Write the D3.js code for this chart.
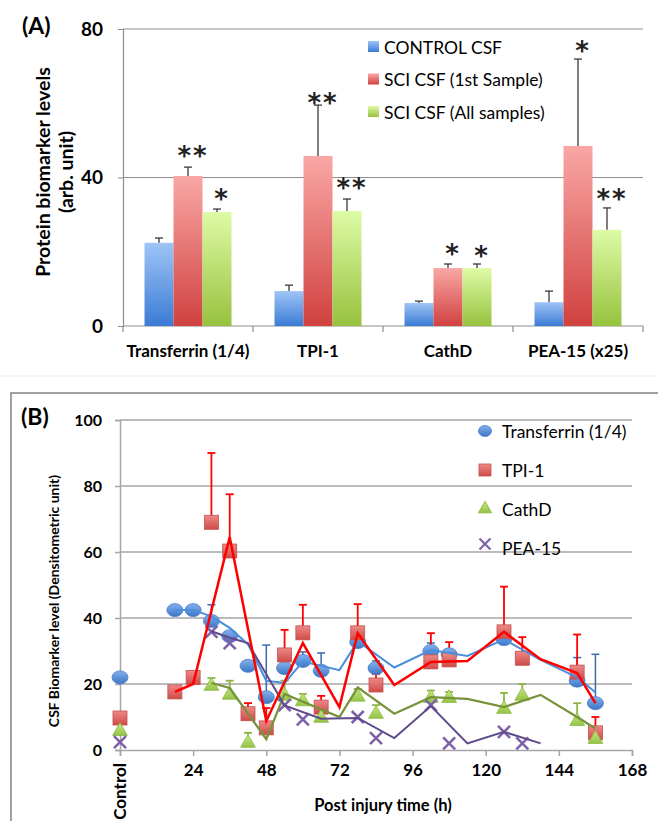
<!DOCTYPE html>
<html><head><meta charset="utf-8">
<script src="https://cdn.jsdelivr.net/npm/d3@7"></script>
<style>body{margin:0;background:#fff}svg{display:block}</style>
</head><body>
<script>
// ---------- Panel A data ----------
const catsA = ["Transferrin (1/4)", "TPI-1", "CathD", "PEA-15 (x25)"];
const seriesA = ["CONTROL CSF", "SCI CSF (1st Sample)", "SCI CSF (All samples)"];
const controlVals = [22.4, 9.4, 6.2, 6.4];
const controlErr  = [1.3, 1.6, 0.5, 3.0];
const firstVals   = [40.4, 45.8, 15.6, 48.5];
const firstErr    = [2.4, 13.7, 1.1, 23.4];
const allVals     = [30.7, 31.0, 15.6, 25.9];
const allErr      = [0.8, 3.2, 1.1, 5.9];
const controlStars = ["", "", "", ""];
const firstStars   = ["**", "**", "*", "*"];
const allStars     = ["*", "**", "*", "**"];
const firstStarLevel = [47.4, 61.7, 21.0, 75.7];
const allStarLevel   = [35.8, 38.8, 20.5, 35.8];
const ticksA = [0, 40, 80];

// ---------- Panel B data ----------
const ticksBy = [0, 20, 40, 60, 80, 100];
const ticksBx = [0, 24, 48, 72, 96, 120, 144, 168];
const tickLabelsBx = ["Control", "24", "48", "72", "96", "120", "144", "168"];
const seriesB = ["Transferrin (1/4)", "TPI-1", "CathD", "PEA-15"];

const trfHours = [0, 18, 24, 30, 36, 42, 48, 54, 60, 66, 78, 84, 102, 108, 126, 150, 156];
const trfVals  = [22, 42.4, 42.4, 39.1, 34.5, 25.5, 16, 24.8, 27, 24, 32.7, 24.8, 30, 29, 33.6, 21, 14.2];
const trfErrTop = [null, null, null, 44, null, null, 31.8, null, 29.7, 29.4, null, 27, 32.4, 30, null, 28, 29];
const trfLineH = [18, 24, 30, 36, 42, 48, 54, 60, 72, 78, 90, 102, 114, 126, 138, 150, 156];
const trfLineV = [42.4, 42.4, 40.5, 37, 32, 21, 20.3, 26.8, 24.2, 33, 25, 30.3, 28.5, 33.5, 27.3, 22, 17.5];

const tpiHours = [0, 18, 24, 30, 36, 42, 48, 54, 60, 66, 78, 84, 102, 108, 126, 132, 150, 156];
const tpiVals  = [9.7, 17.6, 22, 69, 60.3, 11, 6.7, 28.8, 35.5, 13, 35.5, 19.7, 26.7, 27.3, 35.8, 27.8, 23.6, 5.2];
const tpiErrTop = [null, null, null, 90, 77.5, 14.2, 12.7, 36.4, 44, 16.4, 44.2, 23, 35.4, 32.7, 49.5, 34.2, 35, 10];
const tpiLineH = [18, 24, 36, 48, 60, 72, 78, 90, 102, 114, 126, 138, 150, 156];
const tpiLineV = [17.6, 20, 64.5, 8.8, 32.4, 13, 35.4, 19.7, 26.7, 27, 35.8, 27.5, 23.3, 14.2];

const cathHours = [0, 30, 36, 42, 54, 60, 66, 78, 84, 102, 108, 126, 132, 150, 156];
const cathVals  = [6, 19.7, 17, 2.4, 16.7, 15, 10, 16.4, 11.2, 16, 16, 12.7, 16.7, 9, 3.6];
const cathErrTop = [null, 21.8, 21, 5.2, 21, 17, 12.5, 18.5, 13.6, 18, 17.6, 17.3, 20, 14.2, null];
const cathLineH = [30, 36, 48, 54, 72, 78, 90, 102, 114, 126, 138, 150, 156];
const cathLineV = [20.3, 18.8, 3.3, 17, 10, 19, 11, 16, 15.5, 13, 16.7, 10, 6.5];

const peaHours = [0, 30, 36, 54, 60, 78, 84, 102, 108, 126, 132];
const peaVals  = [2.4, 35.8, 32.4, 13.6, 9.3, 10, 3.6, 13.6, 2, 5.5, 2];
const peaLineH = [30, 36, 42, 54, 66, 78, 90, 102, 114, 126, 138];
const peaLineV = [36, 34, 32.4, 13.5, 9.5, 9.7, 3.6, 13.3, 2, 5.5, 2];

// ---------- drawing ----------
const FONT = "Lato, 'Open Sans', sans-serif";
const svg = d3.select("body").append("svg").attr("width", 658).attr("height", 821)
  .style("font-family", FONT);
const defs = svg.append("defs");
function vgrad(id, top, bottom) {
  const g = defs.append("linearGradient").attr("id", id)
    .attr("x1", 0).attr("y1", 0).attr("x2", 0).attr("y2", 1);
  g.append("stop").attr("offset", "0%").attr("stop-color", top);
  g.append("stop").attr("offset", "100%").attr("stop-color", bottom);
}
vgrad("gBlue", "#9fc4f6", "#3b7bd5");
vgrad("gRed", "#f9a7a5", "#d0413f");
vgrad("gGreen", "#defba6", "#97c23e");
vgrad("gCirc", "#84b1ee", "#3d77c6");
vgrad("gSq", "#ee8a88", "#cf4a48");
vgrad("gTri", "#c4e880", "#95c447");

// ===== Panel A =====
const yA = d3.scaleLinear().domain([0, 80]).range([326, 29]);
const x0 = d3.scaleBand().domain(catsA).range([123, 643]);
const x1 = d3.scaleBand().domain(seriesA).range([21.5, 108.5]);
const A = svg.append("g");

A.selectAll("line.grid").data(ticksA.filter(d => d > 0)).join("line")
  .attr("class", "grid")
  .attr("x1", 123).attr("x2", 643)
  .attr("y1", d => yA(d)).attr("y2", d => yA(d))
  .attr("stroke", "#8e8e8e").attr("stroke-width", 1.2);

const axA = A.append("g").attr("transform", "translate(123,0)")
  .call(d3.axisLeft(yA).tickValues(ticksA).tickSize(5).tickPadding(15).tickFormat(d3.format("d")));
axA.select(".domain").attr("stroke", "#8e8e8e").attr("stroke-width", 1.2);
axA.selectAll(".tick line").attr("stroke", "#8e8e8e");
axA.selectAll(".tick text").attr("font-family", FONT).attr("font-size", 19)
  .attr("font-weight", "bold").attr("fill", "#000");

// bottom axis with ticks at category boundaries
A.append("line").attr("x1", 123).attr("x2", 643).attr("y1", yA(0)).attr("y2", yA(0))
  .attr("stroke", "#8e8e8e").attr("stroke-width", 1.2);
const bounds = catsA.map(c => x0(c)).concat([x0(catsA[catsA.length - 1]) + x0.bandwidth()]);
A.selectAll("line.bt").data(bounds).join("line").attr("class", "bt")
  .attr("x1", d => d).attr("x2", d => d).attr("y1", yA(0)).attr("y2", yA(0) + 6)
  .attr("stroke", "#8e8e8e").attr("stroke-width", 1.2);
A.selectAll("text.cat").data(catsA).join("text").attr("class", "cat")
  .attr("x", d => x0(d) + x0.bandwidth() / 2).attr("y", 357)
  .attr("text-anchor", "middle").attr("font-size", 17).attr("font-weight", "bold")
  .text(d => d);

const seriesDataA = [
  { name: seriesA[0], vals: controlVals, err: controlErr, stars: controlStars, lv: controlVals, fill: "url(#gBlue)" },
  { name: seriesA[1], vals: firstVals, err: firstErr, stars: firstStars, lv: firstStarLevel, fill: "url(#gRed)" },
  { name: seriesA[2], vals: allVals, err: allErr, stars: allStars, lv: allStarLevel, fill: "url(#gGreen)" }
];
seriesDataA.forEach(s => {
  const rows = catsA.map((c, i) => ({ c, v: s.vals[i], e: s.err[i], st: s.stars[i], lv: s.lv[i] }));
  const g = A.append("g");
  const cx = d => x0(d.c) + x1(s.name) + x1.bandwidth() / 2;
  g.selectAll("rect").data(rows).join("rect")
    .attr("x", d => x0(d.c) + x1(s.name)).attr("width", x1.bandwidth())
    .attr("y", d => yA(d.v)).attr("height", d => yA(0) - yA(d.v))
    .attr("fill", s.fill);
  g.selectAll("line.eb").data(rows).join("line").attr("class", "eb")
    .attr("x1", cx).attr("x2", cx).attr("y1", d => yA(d.v)).attr("y2", d => yA(d.v + d.e))
    .attr("stroke", "#3a3a3a").attr("stroke-width", 1.3);
  g.selectAll("line.cap").data(rows).join("line").attr("class", "cap")
    .attr("x1", d => cx(d) - 4).attr("x2", d => cx(d) + 4)
    .attr("y1", d => yA(d.v + d.e)).attr("y2", d => yA(d.v + d.e))
    .attr("stroke", "#3a3a3a").attr("stroke-width", 1.3);
  g.selectAll("text.star").data(rows.filter(d => d.st)).join("text").attr("class", "star")
    .attr("x", d => cx(d) + 5).attr("y", d => yA(d.lv) + 15)
    .attr("text-anchor", "middle").attr("font-size", 26).attr("letter-spacing", 2)
    .attr("font-weight", "bold")
    .attr("font-family", "'DejaVu Sans', sans-serif").attr("fill", "#222")
    .text(d => d.st);
});

// Legend A
const legA = A.append("g");
const legAfill = ["url(#gBlue)", "url(#gRed)", "url(#gGreen)"];
seriesA.forEach((s, i) => {
  const yy = 47 + i * 32.5;
  legA.append("rect").attr("x", 368).attr("y", yy - 6).attr("width", 11).attr("height", 11).attr("fill", legAfill[i]);
  legA.append("text").attr("x", 384).attr("y", yy).attr("dominant-baseline", "central")
    .attr("font-size", 17.5).text(s);
});

// Titles
A.append("text").attr("x", 22).attr("y", 34).attr("font-size", 23).attr("font-weight", "bold").text("(A)");
A.append("text").attr("transform", "translate(50,172) rotate(-90)").attr("text-anchor", "middle")
  .attr("font-size", 19.5).attr("font-weight", "bold").text("Protein biomarker levels");
A.append("text").attr("transform", "translate(73,172) rotate(-90)").attr("text-anchor", "middle")
  .attr("font-size", 19.5).attr("font-weight", "bold").text("(arb. unit)");

// ===== Panel B =====
const B = svg.append("g");
B.append("line").attr("x1", 0).attr("x2", 658).attr("y1", 376).attr("y2", 376).attr("stroke", "#eeeeee");
B.append("rect").attr("x", 11).attr("y", 393).attr("width", 700).attr("height", 500)
  .attr("fill", "none").attr("stroke", "#8a8a8a").attr("stroke-width", 1.6);

const xB = d3.scaleLinear().domain([0, 168]).range([120, 632]);
const yB = d3.scaleLinear().domain([0, 100]).range([750, 420]);

B.selectAll("line.grid").data(ticksBy.filter(d => d > 0)).join("line").attr("class", "grid")
  .attr("x1", 120).attr("x2", 632).attr("y1", d => yB(d)).attr("y2", d => yB(d))
  .attr("stroke", "#a6a6a6").attr("stroke-width", 1.5);
const axBy = B.append("g").attr("transform", "translate(120,0)")
  .call(d3.axisLeft(yB).tickValues(ticksBy).tickSize(5).tickPadding(13));
axBy.select(".domain").attr("stroke", "#a6a6a6").attr("stroke-width", 1.5);
axBy.selectAll(".tick line").attr("stroke", "#a6a6a6").attr("stroke-width", 1.5);
axBy.selectAll(".tick text").attr("font-family", FONT).attr("font-size", 16)
  .attr("font-weight", "bold").attr("fill", "#000");

const axBx = B.append("g").attr("transform", "translate(0,750)")
  .call(d3.axisBottom(xB).tickValues(ticksBx).tickSize(6).tickFormat((d, i) => tickLabelsBx[i]));
axBx.select(".domain").attr("stroke", "#a6a6a6").attr("stroke-width", 1.5);
axBx.selectAll(".tick line").attr("stroke", "#a6a6a6").attr("stroke-width", 1.5);
axBx.selectAll(".tick text").attr("font-family", FONT).attr("font-size", 17)
  .attr("font-weight", "bold").attr("fill", "#000").attr("y", 14);
axBx.selectAll(".tick").filter(d => d === 0).select("text")
  .attr("transform", "rotate(-90)").attr("text-anchor", "end").attr("x", -13).attr("y", 0)
  .attr("dy", "0.35em");

B.append("text").attr("x", 383).attr("y", 811).attr("text-anchor", "middle")
  .attr("font-size", 16.5).attr("font-weight", "bold").text("Post injury time (h)");
B.append("text").attr("transform", "translate(59,601) rotate(-90)").attr("text-anchor", "middle")
  .attr("font-size", 14).attr("font-weight", "bold").text("CSF Biomarker level (Densitometric unit)");
B.append("text").attr("x", 21).attr("y", 425).attr("font-size", 23).attr("font-weight", "bold").text("(B)");

// error bars
function errBars(hours, vals, tops, color, w) {
  const rows = hours.map((h, i) => ({ h, v: vals[i], t: tops[i] })).filter(d => d.t != null);
  const g = B.append("g").attr("stroke", color).attr("stroke-width", w);
  g.selectAll("line.v").data(rows).join("line").attr("class", "v")
    .attr("x1", d => xB(d.h)).attr("x2", d => xB(d.h)).attr("y1", d => yB(d.v)).attr("y2", d => yB(d.t));
  g.selectAll("line.c").data(rows).join("line").attr("class", "c")
    .attr("x1", d => xB(d.h) - 4).attr("x2", d => xB(d.h) + 4).attr("y1", d => yB(d.t)).attr("y2", d => yB(d.t));
}
errBars(trfHours, trfVals, trfErrTop, "#3b69ad", 1.5);
errBars(tpiHours, tpiVals, tpiErrTop, "#ff0000", 1.8);
errBars(cathHours, cathVals, cathErrTop, "#8cb545", 1.8);

const pts = (hs, vs) => hs.map((h, i) => ({ h, v: vs[i] }));
// markers
const trfG = B.append("g");
trfG.selectAll("ellipse").data(pts(trfHours, trfVals)).join("ellipse")
  .attr("cx", d => xB(d.h)).attr("cy", d => yB(d.v)).attr("rx", 8).attr("ry", 6.5)
  .attr("fill", "url(#gCirc)").attr("stroke", "#4a7fc8").attr("stroke-width", 0.8);
const tpiG = B.append("g");
tpiG.selectAll("rect").data(pts(tpiHours, tpiVals)).join("rect")
  .attr("x", d => xB(d.h) - 7).attr("y", d => yB(d.v) - 7).attr("width", 14).attr("height", 14)
  .attr("fill", "url(#gSq)").attr("stroke", "#c4504d").attr("stroke-width", 0.8);
const cathG = B.append("g");
cathG.selectAll("path").data(pts(cathHours, cathVals)).join("path")
  .attr("d", d3.symbol(d3.symbolTriangle, 95))
  .attr("transform", d => `translate(${xB(d.h)},${yB(d.v) + 1})`)
  .attr("fill", "url(#gTri)").attr("stroke", "#8db845").attr("stroke-width", 0.8);
const peaG = B.append("g");
peaG.selectAll("path").data(pts(peaHours, peaVals)).join("path")
  .attr("d", "M-6,-6L6,6M-6,6L6,-6")
  .attr("transform", d => `translate(${xB(d.h)},${yB(d.v)})`)
  .attr("stroke", "#7e62a8").attr("stroke-width", 2.6).attr("fill", "none");

// lines
const lineGen = d3.line().x(d => xB(d.h)).y(d => yB(d.v));
B.append("path").datum(pts(trfLineH, trfLineV)).attr("d", lineGen)
  .attr("fill", "none").attr("stroke", "#4a8fdc").attr("stroke-width", 2);
B.append("path").datum(pts(cathLineH, cathLineV)).attr("d", lineGen)
  .attr("fill", "none").attr("stroke", "#77933c").attr("stroke-width", 2.3);
B.append("path").datum(pts(peaLineH, peaLineV)).attr("d", lineGen)
  .attr("fill", "none").attr("stroke", "#5f4a8b").attr("stroke-width", 2);
B.append("path").datum(pts(tpiLineH, tpiLineV)).attr("d", lineGen)
  .attr("fill", "none").attr("stroke", "#ff0000").attr("stroke-width", 2.5);

// Legend B
const legB = B.append("g");
seriesB.forEach((s, i) => {
  const yy = 431 + i * 39;
  const mx = 485;
  if (i === 0) legB.append("ellipse").attr("cx", mx).attr("cy", yy).attr("rx", 6.5).attr("ry", 5.5)
    .attr("fill", "url(#gCirc)").attr("stroke", "#4a7fc8").attr("stroke-width", 0.8);
  if (i === 1) legB.append("rect").attr("x", mx - 6).attr("y", yy - 6).attr("width", 12).attr("height", 12)
    .attr("fill", "url(#gSq)").attr("stroke", "#c4504d").attr("stroke-width", 0.8);
  if (i === 2) legB.append("path").attr("d", d3.symbol(d3.symbolTriangle, 75))
    .attr("transform", `translate(${mx},${yy})`).attr("fill", "url(#gTri)").attr("stroke", "#8db845");
  if (i === 3) legB.append("path").attr("d", "M-5.5,-5.5L5.5,5.5M-5.5,5.5L5.5,-5.5")
    .attr("transform", `translate(${mx},${yy - 4})`).attr("stroke", "#7e62a8").attr("stroke-width", 2.2);
  legB.append("text").attr("x", 502).attr("y", yy).attr("dominant-baseline", "central")
    .attr("font-size", 17.5).text(s);
});
</script>
</body></html>
